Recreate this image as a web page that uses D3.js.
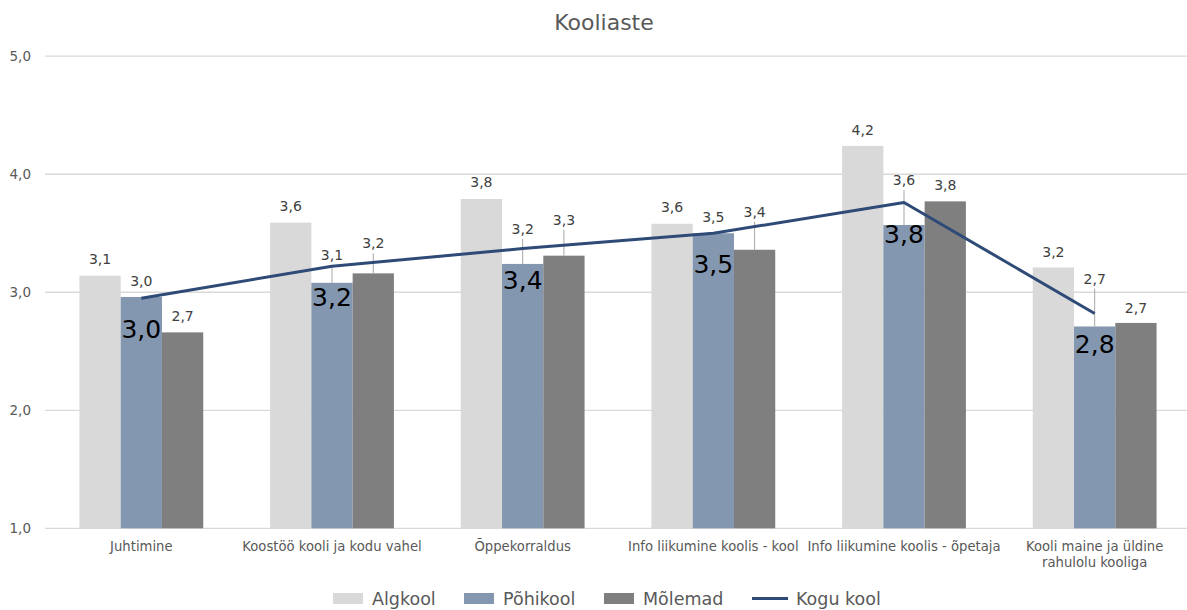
<!DOCTYPE html>
<html>
<head>
<meta charset="utf-8">
<script src="https://cdn.jsdelivr.net/npm/d3@7"></script>
<style>
  html, body { margin: 0; padding: 0; background: #fff; }
  svg { display: block; }
  text { font-family: "DejaVu Sans", sans-serif; }
</style>
</head>
<body>
<svg id="chart" width="1187" height="610"></svg>
<script>
// ---- data ----
const title = "Kooliaste";
const categories = [
  "Juhtimine",
  "Koostöö kooli ja kodu vahel",
  "Õppekorraldus",
  "Info liikumine koolis - kool",
  "Info liikumine koolis - õpetaja",
  "Kooli maine ja üldine rahulolu kooliga"
];
const seriesNames = ["Algkool", "Põhikool", "Mõlemad"];
const lineName = "Kogu kool";
const algkool  = [3.14, 3.59, 3.79, 3.58, 4.24, 3.21];
const pohikool = [2.96, 3.08, 3.24, 3.50, 3.57, 2.71];
const molemad  = [2.66, 3.16, 3.31, 3.36, 3.77, 2.74];
const koguKool = [2.95, 3.22, 3.37, 3.50, 3.76, 2.82];
const yTicks = [1, 2, 3, 4, 5];

// ---- layout / style (not data) ----
const colors = ["#d9d9d9", "#8497b0", "#7f7f7f"];
const lineColor = "#2e4a76";
// label lift above bar top (px), per category per series
const labelLift = [
  [17, 16, 16],
  [17, 28, 30],
  [17, 35, 36],
  [17, 16, 38],
  [16, 45, 16],
  [16, 48, 15]
];

const svg = d3.select("#chart");
const fmt = v => d3.format(".1f")(v).replace(".", ",");

const x0 = d3.scaleBand().domain(categories).range([46, 1190]).padding(0);
const x1 = d3.scaleBand().domain(seriesNames).range([0, x0.bandwidth()]).paddingInner(0).paddingOuter(0.81);
const y = d3.scaleLinear().domain([1, 5]).range([528.3, 56.2]);

// title
svg.append("text").attr("x", 604).attr("y", 30).attr("text-anchor", "middle")
  .attr("fill", "#595959").attr("font-size", 22).text(title);

// gridlines
svg.append("g").selectAll("line").data(yTicks).join("line")
  .attr("x1", 45).attr("x2", 1187)
  .attr("y1", d => y(d)).attr("y2", d => y(d))
  .attr("stroke", "#d9d9d9").attr("stroke-width", 1.3);

// y axis
const yAxis = d3.axisLeft(y).tickValues(yTicks).tickSize(0).tickPadding(0).tickFormat(fmt);
const gy = svg.append("g").attr("transform", "translate(31,0)").call(yAxis);
gy.select(".domain").remove();
gy.selectAll("text").attr("fill", "#595959").attr("font-size", 13.5).attr("font-family", "DejaVu Sans, sans-serif");

// bars
const seriesData = [algkool, pohikool, molemad];
const barData = [];
categories.forEach((c, i) => {
  seriesNames.forEach((s, j) => {
    barData.push({ cat: c, ser: s, v: seriesData[j][i], ci: i, si: j });
  });
});
svg.append("g").selectAll("rect").data(barData).join("rect")
  .attr("x", d => x0(d.cat) + x1(d.ser))
  .attr("width", x1.bandwidth())
  .attr("y", d => y(d.v))
  .attr("height", d => y(1) - y(d.v))
  .attr("fill", d => colors[d.si]);

// leader lines
const lg = svg.append("g");
barData.forEach(d => {
  const lift = labelLift[d.ci][d.si];
  if (lift > 22) {
    const cx = x0(d.cat) + x1(d.ser) + x1.bandwidth() / 2;
    lg.append("line")
      .attr("x1", cx).attr("x2", cx)
      .attr("y1", y(d.v) - lift + 10).attr("y2", y(d.v))
      .attr("stroke", "#a6a6a6").attr("stroke-width", 1);
  }
});

// line
const lineGen = d3.line()
  .x((d, i) => x0(categories[i]) + x0.bandwidth() / 2)
  .y(d => y(d));
svg.append("path").datum(koguKool).attr("d", lineGen)
  .attr("fill", "none").attr("stroke", lineColor).attr("stroke-width", 3)
  .attr("stroke-linejoin", "round");

// bar labels
svg.append("g").selectAll("text").data(barData).join("text")
  .attr("x", d => x0(d.cat) + x1(d.ser) + x1.bandwidth() / 2)
  .attr("y", d => y(d.v) - labelLift[d.ci][d.si])
  .attr("dy", "0.36em")
  .attr("text-anchor", "middle")
  .attr("fill", "#404040").attr("font-size", 14)
  .text(d => fmt(d.v));

// line labels
svg.append("g").selectAll("text").data(koguKool).join("text")
  .attr("x", (d, i) => x0(categories[i]) + x0.bandwidth() / 2)
  .attr("y", d => y(d) + 31)
  .attr("dy", "0.36em")
  .attr("text-anchor", "middle")
  .attr("fill", "#000").attr("font-size", 25)
  .text(d => fmt(d));

// x category labels
const catLines = {
  "Kooli maine ja üldine rahulolu kooliga": ["Kooli maine ja üldine", "rahulolu kooliga"]
};
const gx = svg.append("g");
categories.forEach(c => {
  const lines = catLines[c] || [c];
  const t = gx.append("text")
    .attr("x", x0(c) + x0.bandwidth() / 2)
    .attr("y", 551)
    .attr("text-anchor", "middle")
    .attr("fill", "#595959").attr("font-size", 13.2);
  lines.forEach((l, k) => {
    t.append("tspan").attr("x", x0(c) + x0.bandwidth() / 2).attr("dy", k === 0 ? 0 : 16).text(l);
  });
});

// legend
const legendItems = [
  { name: seriesNames[0], type: "rect", color: colors[0], x: 333 },
  { name: seriesNames[1], type: "rect", color: colors[1], x: 464 },
  { name: seriesNames[2], type: "rect", color: colors[2], x: 604 },
  { name: lineName, type: "line", color: lineColor, x: 752 }
];
const leg = svg.append("g");
legendItems.forEach(it => {
  if (it.type === "rect") {
    leg.append("rect").attr("x", it.x).attr("y", 593).attr("width", 30).attr("height", 11).attr("fill", it.color);
  } else {
    leg.append("line").attr("x1", it.x).attr("x2", it.x + 36).attr("y1", 598.5).attr("y2", 598.5)
      .attr("stroke", it.color).attr("stroke-width", 3);
  }
  leg.append("text").attr("x", it.x + (it.type === "rect" ? 39 : 44)).attr("y", 598.5).attr("dy", "0.36em")
    .attr("fill", "#595959").attr("font-size", 17.5).text(it.name);
});
</script>
</body>
</html>
